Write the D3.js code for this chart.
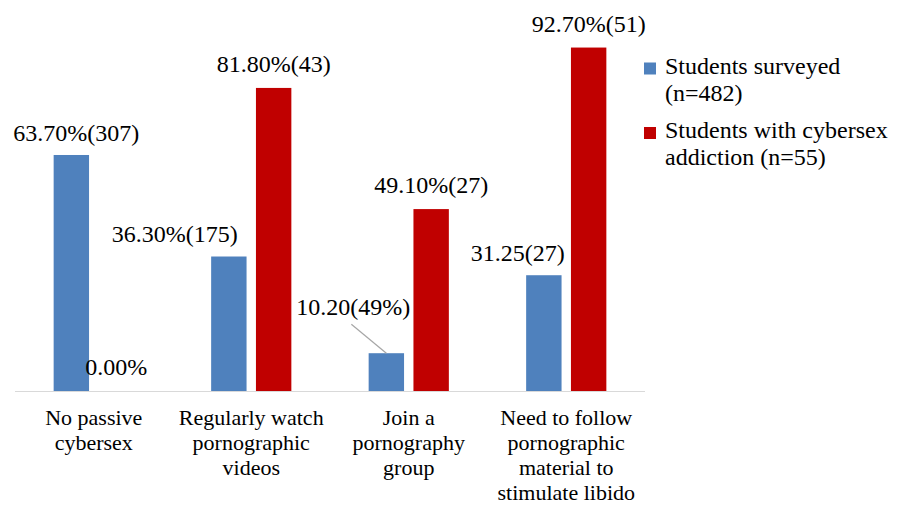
<!DOCTYPE html>
<html><head><meta charset="utf-8">
<script src="https://cdn.jsdelivr.net/npm/d3@7/dist/d3.min.js"></script>
</head><body style="margin:0"><svg id="c" width="901" height="506"></svg>
<script>
const categories = [
  ["No passive", "cybersex"],
  ["Regularly watch", "pornographic", "videos"],
  ["Join a", "pornography", "group"],
  ["Need to follow", "pornographic", "material to", "stimulate libido"]
];
const seriesNames = [["Students surveyed", "(n=482)"], ["Students with cybersex", "addiction (n=55)"]];
const surveyed = [63.7, 36.3, 10.2, 31.25];
const addicted = [0, 81.8, 49.1, 92.7];
const surveyedLabels = ["63.70%(307)", "36.30%(175)", "10.20(49%)", "31.25(27)"];
const addictedLabels = ["0.00%", "81.80%(43)", "49.10%(27)", "92.70%(51)"];

// layout config (not data)
const FONT = '"Liberation Serif", monospace';
const colors = ["#4F81BD", "#C00000"];
const surveyedLabelOffset = [[5, -14], [-54, -15], [-33, -38], [-26, -14]];
const addictedLabelOffset = [[0, -16], [0, -16], [0, -16], [0, -16]];

const svg = d3.select("#c");
const x = d3.scaleBand().domain(d3.range(categories.length)).range([15, 645]).padding(0);
const y = d3.scaleLinear().domain([0, 100]).range([391, 20.5]);
const barW = 35.4, gap = 9.4;
const offs = [-(barW + gap / 2), gap / 2];
const series = [surveyed, addicted];
const labels = [surveyedLabels, addictedLabels];
const labOffs = [surveyedLabelOffset, addictedLabelOffset];

series.forEach((vals, s) => {
  svg.append("g").selectAll("rect").data(vals).join("rect")
    .attr("x", (d, i) => x(i) + x.bandwidth() / 2 + offs[s])
    .attr("y", d => y(d))
    .attr("width", barW)
    .attr("height", d => y(0) - y(d))
    .attr("fill", colors[s]);
});

// axis line
svg.append("line").attr("x1", 15).attr("x2", 645).attr("y1", y(0) + 0.5).attr("y2", y(0) + 0.5)
  .attr("stroke", "#D9D9D9").attr("stroke-width", 1.2);

// leader line for 10.20 label
{
  const i = 2;
  const cx = x(i) + x.bandwidth() / 2 + offs[0] + barW / 2;
  svg.append("line").attr("x1", cx - 35).attr("y1", y(surveyed[i]) - 29)
    .attr("x2", cx).attr("y2", y(surveyed[i]))
    .attr("stroke", "#A6A6A6").attr("stroke-width", 1.2);
}

// data labels
series.forEach((vals, s) => {
  svg.selectAll(null).data(vals).join("text")
    .attr("x", (d, i) => x(i) + x.bandwidth() / 2 + offs[s] + barW / 2 + labOffs[s][i][0])
    .attr("y", (d, i) => y(d) + labOffs[s][i][1])
    .attr("text-anchor", "middle")
    .attr("font-size", 24)
    .style("font-family", FONT)
    .text((d, i) => labels[s][i]);
});

// category labels (one text per line)
categories.forEach((lines, i) => {
  svg.selectAll(null).data(lines).join("text")
    .attr("text-anchor", "middle")
    .attr("font-size", 22)
    .style("font-family", FONT)
    .attr("x", x(i) + x.bandwidth() / 2)
    .attr("y", (d, j) => 425 + j * 25)
    .text(d => d);
});

// legend
const legY = [62.5, 127];
seriesNames.forEach((nm, s) => {
  svg.append("rect").attr("x", 644).attr("y", legY[s]).attr("width", 12).attr("height", 12).attr("fill", colors[s]);
  svg.selectAll(null).data(nm).join("text")
    .attr("x", 665).attr("y", (d, j) => legY[s] + 11 + j * 27)
    .attr("font-size", 24).style("font-family", FONT)
    .text(d => d);
});
</script></body></html>
